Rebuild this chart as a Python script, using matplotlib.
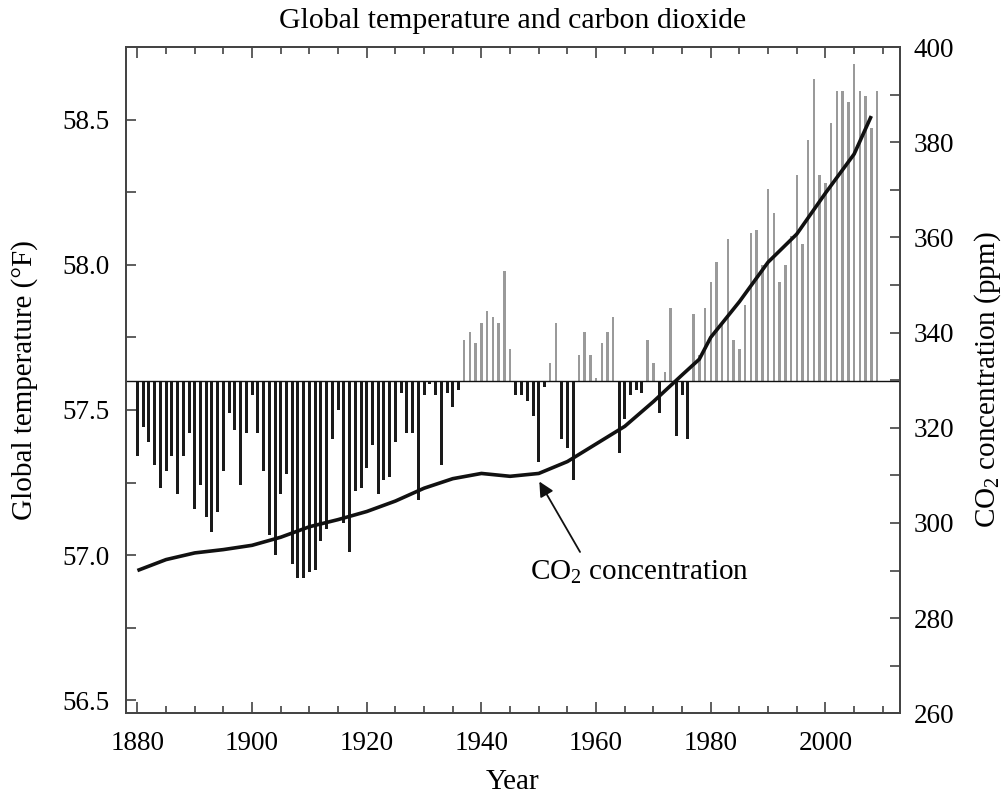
import numpy as np
import matplotlib
matplotlib.use("Agg")
import matplotlib.pyplot as plt
from matplotlib.ticker import MultipleLocator

plt.rcParams['font.family'] = ['Liberation Serif', 'DejaVu Serif']
plt.rcParams['mathtext.fontset'] = 'custom'
plt.rcParams['mathtext.rm'] = 'Liberation Serif'
plt.rcParams['mathtext.it'] = 'Liberation Serif:italic'

# annual global temperature (deg F), 1880-2009
years = list(range(1880, 2010))
temps = [
    57.34, 57.44, 57.39, 57.31, 57.23, 57.29, 57.34, 57.21, 57.34, 57.42,  # 1880s
    57.16, 57.24, 57.13, 57.08, 57.15, 57.29, 57.49, 57.43, 57.24, 57.42,  # 1890s
    57.55, 57.42, 57.29, 57.07, 57.00, 57.21, 57.28, 56.97, 56.92, 56.92,  # 1900s
    56.94, 56.95, 57.05, 57.09, 57.40, 57.50, 57.11, 57.01, 57.22, 57.23,  # 1910s
    57.30, 57.38, 57.21, 57.26, 57.27, 57.39, 57.56, 57.42, 57.42, 57.19,  # 1920s
    57.55, 57.59, 57.55, 57.31, 57.56, 57.51, 57.57, 57.74, 57.77, 57.73,  # 1930s
    57.80, 57.84, 57.82, 57.80, 57.98, 57.71, 57.55, 57.55, 57.53, 57.48,  # 1940s
    57.32, 57.58, 57.66, 57.80, 57.40, 57.37, 57.26, 57.69, 57.77, 57.69,  # 1950s
    57.61, 57.73, 57.77, 57.82, 57.35, 57.47, 57.55, 57.57, 57.56, 57.74,  # 1960s
    57.66, 57.49, 57.63, 57.85, 57.41, 57.55, 57.40, 57.83, 57.69, 57.85,  # 1970s
    57.94, 58.01, 57.80, 58.09, 57.74, 57.71, 57.86, 58.11, 58.12, 58.00,  # 1980s
    58.26, 58.18, 57.94, 58.00, 58.10, 58.31, 58.07, 58.43, 58.64, 58.31,  # 1990s
    58.28, 58.49, 58.60, 58.60, 58.56, 58.69, 58.60, 58.58, 58.47, 58.60,  # 2000s
]
base_temp = 57.6

# CO2 concentration (ppm)
co2_years = [1880, 1885, 1890, 1895, 1900, 1905, 1910, 1915, 1920, 1925,
             1930, 1935, 1940, 1945, 1950, 1955, 1960, 1965, 1970, 1975,
             1978, 1980, 1985, 1990, 1995, 2000, 2005, 2008]
co2_ppm = [290.0, 292.3, 293.7, 294.4, 295.3, 297.0, 299.2, 300.7, 302.4, 304.6,
           307.3, 309.3, 310.4, 309.8, 310.4, 312.9, 316.6, 320.3, 325.5, 331.1,
           334.4, 339.0, 346.5, 354.8, 360.7, 369.3, 377.5, 385.5]

fig = plt.figure(figsize=(10.06, 7.96), dpi=100)
ax = fig.add_axes([0.1252, 0.1039, 0.7694, 0.8370])
ax2 = ax.twinx()

t = np.array(temps)
cols = ['#9a9a9a' if v > base_temp else '#1a1a1a' for v in t]
wid = [0.42 if v > base_temp else 0.52 for v in t]
ax.bar(years, t - base_temp, bottom=base_temp, width=wid, color=cols, linewidth=0)
ax.axhline(base_temp, color='#111111', lw=1.0)

ax.set_xlim(1878, 2013)
ax.set_ylim(56.455, 58.75)
ax.xaxis.set_major_locator(MultipleLocator(20))
ax.xaxis.set_minor_locator(MultipleLocator(5))
ax.yaxis.set_major_locator(MultipleLocator(0.5))
ax.yaxis.set_minor_locator(MultipleLocator(0.25))
ax.yaxis.set_major_formatter(plt.FormatStrFormatter('%.1f'))

ax2.plot(co2_years, co2_ppm, color='#111111', lw=2.6, solid_capstyle='butt',
         solid_joinstyle='round')
ax2.set_ylim(260, 400)
ax2.yaxis.set_major_locator(MultipleLocator(20))
ax2.yaxis.set_minor_locator(MultipleLocator(10))

ax.tick_params(axis='x', which='both', direction='in', top=True, bottom=True,
               labelsize=19.5, pad=13, color='#333333')
ax.tick_params(axis='x', which='major', length=8, width=1.1)
ax.tick_params(axis='x', which='minor', length=5, width=1.1)
ax.tick_params(axis='y', which='both', direction='in', left=True, right=False,
               labelsize=19.5, pad=12, length=7, width=1.1, color='#333333')
ax2.tick_params(axis='y', which='both', direction='in', right=True, left=False,
                labelsize=19.5, pad=10, length=7, width=1.1, color='#333333')

for a in (ax, ax2):
    for s in a.spines.values():
        s.set_color('#444444')
        s.set_linewidth(1.3)

ax.set_xlabel('Year', fontsize=21, labelpad=9)
ax.set_ylabel('Global temperature (°F)', fontsize=21)
ax.yaxis.set_label_coords(-0.114, 0.5)
ax2.set_ylabel('CO$_2$ concentration (ppm)', fontsize=21, rotation=90)
ax2.yaxis.set_label_coords(1.094, 0.5)

fig.text(0.51, 0.973, 'Global temperature and carbon dioxide', ha='center',
         va='center', fontsize=21.5)

ax2.annotate('', xy=(1950.1, 308.7), xytext=(1957.2, 293.9),
             arrowprops=dict(arrowstyle='-|>', color='#111111', lw=1.3,
                             mutation_scale=22, shrinkA=0, shrinkB=0))
ax2.text(1948.5, 289.7, 'CO$_2$ concentration', fontsize=21, ha='left', va='center')

fig.savefig('out.png', dpi=100)
